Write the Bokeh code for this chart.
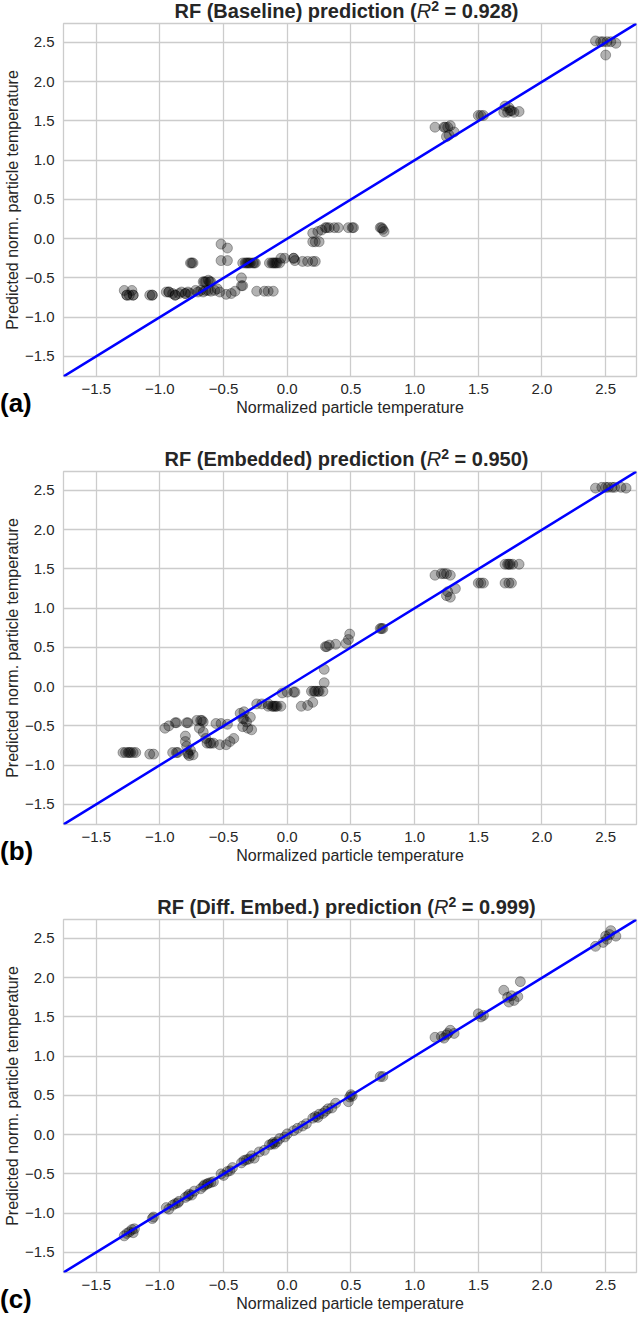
from bokeh.plotting import figure
from bokeh.layouts import column
from bokeh.models import Range1d, FixedTicker, Slope, Div
from bokeh.embed import file_html
from bokeh.resources import INLINE

# ---------------- data ----------------
tick_values = [-1.5, -1.0, -0.5, 0.0, 0.5, 1.0, 1.5, 2.0, 2.5]
tick_labels = ["\u22121.5", "\u22121.0", "\u22120.5", "0.0", "0.5", "1.0", "1.5", "2.0", "2.5"]
axis_limits = [-1.757, 2.742]

model_names = ["Baseline", "Embedded", "Diff. Embed."]
r2_values = ["0.928", "0.950", "0.999"]
panel_letters = ["(a)", "(b)", "(c)"]

a_true = [
    -1.28, -1.26, -1.26, -1.24, -1.22, -1.21, -1.21,
    -1.08, -1.06, -1.06,
    -0.95, -0.93, -0.93, -0.90, -0.88, -0.88, -0.85, -0.83, -0.80, -0.80, -0.78, -0.76,
    -0.76, -0.75, -0.74,
    -0.72, -0.70, -0.68, -0.66, -0.64, -0.62, -0.60,
    -0.66, -0.65, -0.64, -0.62, -0.61, -0.60,
    -0.57, -0.55, -0.53,
    -0.52, -0.47,
    -0.52, -0.47,
    -0.48, -0.44, -0.41,
    -0.36, -0.36, -0.35,
    -0.35, -0.33, -0.32, -0.31, -0.30, -0.29, -0.27, -0.26, -0.25,
    -0.24, -0.18, -0.15, -0.11,
    -0.14, -0.12, -0.11, -0.10, -0.09, -0.08, -0.06,
    -0.05, -0.02, 0.05, 0.05, 0.06,
    0.12, 0.16, 0.20, 0.22,
    0.20, 0.22, 0.25, 0.20, 0.24, 0.27,
    0.30, 0.31, 0.33, 0.37, 0.40, 0.48, 0.51, 0.52,
    0.73, 0.74, 0.75, 0.76,
    1.16, 1.23, 1.24, 1.26, 1.28, 1.25, 1.27, 1.31,
    1.50, 1.52, 1.54,
    1.70, 1.71, 1.73, 1.74, 1.75, 1.76, 1.78, 1.82,
    2.42, 2.46, 2.48, 2.51, 2.54, 2.58, 2.50,
]
a_pred = [
    -0.66, -0.72, -0.72, -0.72, -0.66, -0.72, -0.72,
    -0.72, -0.72, -0.72,
    -0.68, -0.68, -0.68, -0.70, -0.72, -0.72, -0.70, -0.68, -0.70, -0.70, -0.68, -0.70,
    -0.31, -0.31, -0.31,
    -0.66, -0.68, -0.66, -0.68, -0.66, -0.66, -0.67,
    -0.55, -0.55, -0.55, -0.53, -0.55, -0.55,
    -0.66, -0.64, -0.68,
    -0.07, -0.12,
    -0.28, -0.28,
    -0.71, -0.70, -0.67,
    -0.50, -0.60, -0.60,
    -0.31, -0.31, -0.31, -0.31, -0.31, -0.31, -0.31, -0.31, -0.31,
    -0.67, -0.67, -0.67, -0.67,
    -0.31, -0.31, -0.31, -0.31, -0.31, -0.31, -0.31,
    -0.25, -0.25, -0.25, -0.25, -0.28,
    -0.29, -0.29, -0.29, -0.29,
    -0.04, -0.04, -0.04, 0.07, 0.09, 0.11,
    0.14, 0.14, 0.14, 0.14, 0.14, 0.14, 0.14, 0.14,
    0.14, 0.14, 0.12, 0.09,
    1.42, 1.42, 1.42, 1.42, 1.44, 1.30, 1.32, 1.36,
    1.57, 1.57, 1.57,
    1.61, 1.69, 1.61, 1.67, 1.63, 1.63, 1.61, 1.62,
    2.52, 2.51, 2.51, 2.51, 2.51, 2.49, 2.34,
]

b_true = [
    -1.29, -1.27, -1.25, -1.24, -1.23, -1.21, -1.19,
    -1.08, -1.05,
    -0.96, -0.93, -0.88, -0.87, -0.79, -0.78,
    -0.90, -0.87, -0.86, -0.80, -0.80, -0.79, -0.78, -0.78, -0.76, -0.74, -0.77,
    -0.71, -0.68, -0.67, -0.66, -0.69, -0.66, -0.64, -0.63,
    -0.61, -0.60, -0.58, -0.53,
    -0.56, -0.52, -0.47,
    -0.48, -0.45, -0.42,
    -0.37, -0.34, -0.35, -0.34, -0.32, -0.35, -0.31, -0.28, -0.29,
    -0.24, -0.20, -0.15,
    -0.15, -0.12, -0.11, -0.10, -0.09, -0.08, -0.05,
    -0.04, 0.00, 0.05, 0.06,
    0.11, 0.16, 0.20,
    0.19, 0.21, 0.22, 0.24, 0.25, 0.28,
    0.29, 0.29,
    0.30, 0.31, 0.33, 0.38, 0.46, 0.48, 0.49,
    0.73, 0.74, 0.75,
    1.16, 1.21, 1.23, 1.25, 1.28,
    1.25, 1.26, 1.32, 1.28,
    1.50, 1.52, 1.54,
    1.71, 1.73, 1.74, 1.75, 1.77, 1.82, 1.71, 1.74, 1.76,
    2.42, 2.47, 2.50, 2.52, 2.55, 2.57, 2.62, 2.66,
]
b_pred = [
    -0.84, -0.84, -0.84, -0.84, -0.84, -0.84, -0.84,
    -0.86, -0.86,
    -0.53, -0.50, -0.46, -0.46, -0.46, -0.46,
    -0.84, -0.84, -0.84, -0.63, -0.70, -0.76, -0.84, -0.86, -0.81, -0.87, -0.88,
    -0.43, -0.43, -0.43, -0.45, -0.53, -0.58, -0.66, -0.72,
    -0.72, -0.72, -0.72, -0.74,
    -0.47, -0.47, -0.48,
    -0.74, -0.70, -0.66,
    -0.34, -0.32, -0.41, -0.41, -0.45, -0.51, -0.53, -0.55, -0.39,
    -0.22, -0.22, -0.22,
    -0.25, -0.25, -0.25, -0.25, -0.25, -0.25, -0.25,
    -0.08, -0.07, -0.07, -0.07,
    -0.25, -0.24, -0.20,
    -0.06, -0.06, -0.06, -0.06, -0.06, -0.06,
    0.05, 0.22,
    0.51, 0.51, 0.53, 0.54, 0.55, 0.60, 0.67,
    0.74, 0.74, 0.74,
    1.42, 1.44, 1.44, 1.44, 1.42,
    1.16, 1.21, 1.25, 1.14,
    1.32, 1.32, 1.32,
    1.56, 1.56, 1.56, 1.56, 1.56, 1.56, 1.32, 1.32, 1.32,
    2.53, 2.54, 2.54, 2.54, 2.54, 2.54, 2.54, 2.53,
]

c_true = [
    -1.28, -1.26, -1.24, -1.22, -1.21, -1.20,
    -1.06, -1.05,
    -0.95, -0.93, -0.90, -0.88, -0.86, -0.85,
    -0.80, -0.78, -0.77, -0.75, -0.73,
    -0.68, -0.66, -0.65, -0.63, -0.62, -0.60, -0.58,
    -0.52, -0.50, -0.47, -0.45, -0.43,
    -0.36, -0.34, -0.32, -0.30, -0.28, -0.26,
    -0.22, -0.18,
    -0.14, -0.12, -0.11, -0.10, -0.08, -0.06,
    -0.02, 0.00,
    0.05, 0.08, 0.12, 0.15,
    0.20, 0.22, 0.24, 0.25, 0.28, 0.30, 0.32, 0.35, 0.38,
    0.48, 0.49, 0.50, 0.51,
    0.73, 0.75,
    1.16, 1.21, 1.23, 1.25, 1.26, 1.28, 1.31,
    1.50, 1.52, 1.54,
    1.70, 1.73, 1.74, 1.76, 1.78, 1.81, 1.83,
    2.42, 2.48, 2.50, 2.51, 2.53, 2.54, 2.58,
]
c_pred = [
    -1.29, -1.26, -1.24, -1.21, -1.25, -1.20,
    -1.07, -1.05,
    -0.93, -0.95, -0.90, -0.88, -0.87, -0.85,
    -0.80, -0.78, -0.76, -0.77, -0.72,
    -0.69, -0.66, -0.64, -0.63, -0.62, -0.61, -0.60,
    -0.50, -0.52, -0.47, -0.46, -0.42,
    -0.36, -0.33, -0.32, -0.31, -0.27, -0.30,
    -0.22, -0.20,
    -0.13, -0.12, -0.10, -0.12, -0.09, -0.05,
    -0.03, 0.01,
    0.05, 0.08, 0.11, 0.14,
    0.21, 0.23, 0.22, 0.26, 0.27, 0.30, 0.33, 0.34, 0.40,
    0.42, 0.48, 0.51, 0.49,
    0.74, 0.74,
    1.24, 1.25, 1.23, 1.27, 1.29, 1.33, 1.29,
    1.54, 1.50, 1.52,
    1.84, 1.75, 1.69, 1.77, 1.71, 1.76, 1.95,
    2.40, 2.45, 2.53, 2.49, 2.55, 2.60, 2.53,
]

series_true = [a_true, b_true, c_true]
series_pred = [a_pred, b_pred, c_pred]

# ---------------- styling ----------------
FONT = "Liberation Sans"
TEXT_COLOR = "#262626"
GRID_COLOR = "#cccccc"

FRAME_W = 573
FRAME_H = 353
BORDER_LEFT = 60
BORDER_BOTTOM = 45
TITLE_H = 22
TITLE_GAPS = [0, 30, 30]


def make_title(i):
    html = (
        '<div style="width:%dpx; text-align:center; white-space:nowrap; '
        "font-family:'Liberation Sans', Arial, sans-serif; font-size:20px; "
        'line-height:%dpx; color:%s;">'
        '<b>RF (%s) prediction (</b><i>R</i>'
        '<b><span style="font-size:14px; position:relative; top:-7px;">2</span>'
        ' = %s)</b></div>'
    ) % (FRAME_W, TITLE_H, TEXT_COLOR, model_names[i], r2_values[i])
    return Div(text=html, width=FRAME_W, height=TITLE_H,
               margin=(TITLE_GAPS[i], 0, 0, BORDER_LEFT))


def make_letter(i):
    html = ('<div style="font-family:\'Liberation Sans\', Arial, sans-serif; '
            'font-size:26px; font-weight:bold; line-height:30px; color:black;">%s</div>'
            % panel_letters[i])
    return Div(text=html, width=45, height=30,
               margin=(-(BORDER_BOTTOM - 12), 0, 0, 0))


def make_panel(i):
    p = figure(frame_width=FRAME_W, frame_height=FRAME_H,
               min_border_left=BORDER_LEFT, min_border_right=2,
               min_border_top=1, min_border_bottom=BORDER_BOTTOM,
               x_range=Range1d(axis_limits[0], axis_limits[1]),
               y_range=Range1d(axis_limits[0], axis_limits[1]),
               output_backend="svg", toolbar_location=None,
               background_fill_color="white", border_fill_color="white")
    p.outline_line_color = GRID_COLOR
    p.outline_line_width = 1.3

    for ax in (p.xaxis[0], p.yaxis[0]):
        ax.ticker = FixedTicker(ticks=tick_values)
        ax.major_label_overrides = dict(zip(tick_values, tick_labels))
        ax.axis_line_color = None
        ax.major_tick_line_color = None
        ax.minor_tick_line_color = None
        ax.major_tick_in = 0
        ax.major_tick_out = 0
        ax.major_label_text_font = FONT
        ax.major_label_text_font_size = "15px"
        ax.major_label_text_color = TEXT_COLOR
        ax.axis_label_text_font = FONT
        ax.axis_label_text_font_size = "16px"
        ax.axis_label_text_font_style = "normal"
        ax.axis_label_text_color = TEXT_COLOR
    p.xaxis.major_label_standoff = 7
    p.yaxis.major_label_standoff = 9
    p.xaxis.axis_label_standoff = 2
    p.yaxis.axis_label_standoff = 1
    p.xaxis.axis_label = "Normalized particle temperature"
    p.yaxis.axis_label = "Predicted norm. particle temperature"

    for g in (p.xgrid[0], p.ygrid[0]):
        g.ticker = FixedTicker(ticks=tick_values)
        g.grid_line_color = GRID_COLOR
        g.grid_line_width = 1.3

    p.scatter(x=series_true[i], y=series_pred[i], size=10, marker="circle",
              fill_color="black", fill_alpha=0.3,
              line_color="black", line_alpha=0.3, line_width=1)

    p.add_layout(Slope(gradient=1, y_intercept=0, line_color="#0000ff", line_width=2.5))
    return p


children = []
for i in range(3):
    children.append(make_title(i))
    children.append(make_panel(i))
    children.append(make_letter(i))

layout = column(*children, spacing=0)

with open("out.html", "w") as f:
    f.write(file_html(layout, INLINE))
